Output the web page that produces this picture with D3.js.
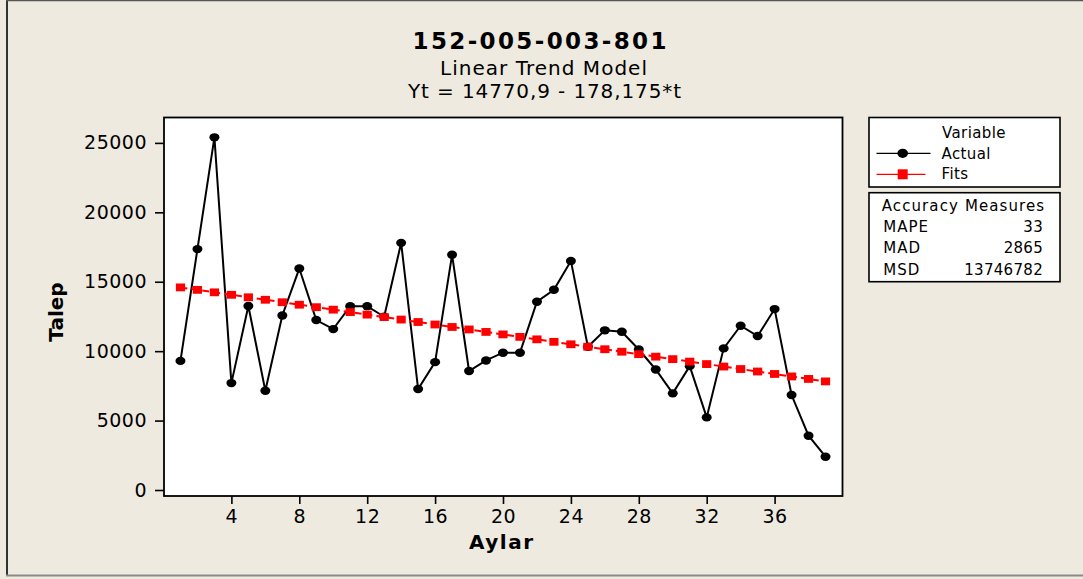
<!DOCTYPE html>
<html>
<head>
<meta charset="utf-8">
<script src="https://cdn.jsdelivr.net/npm/d3@7/dist/d3.min.js"></script>
<style>
  html, body { margin: 0; padding: 0; background: #EEEADF; }
  svg { display: block; }
  text { font-family: "DejaVu Sans", Verdana, sans-serif; fill: #000; }
</style>
</head>
<body>
<script>
// Months (t) on the x axis
const months = [1,2,3,4,5,6,7,8,9,10,11,12,13,14,15,16,17,18,19,20,
                21,22,23,24,25,26,27,28,29,30,31,32,33,34,35,36,37,38,39];

// Observed demand (Talep) per month
const actual = [9300, 17350, 25400, 7700, 13250, 7150, 12570, 15950, 12240, 11590,
                13240, 13240, 12480, 17800, 7270, 9210, 16940, 8570, 9330, 9890,
                9890, 13560, 14420, 16500, 10320, 11500, 11400, 10120, 8680, 6960,
                8920, 5230, 10200, 11830, 11090, 13030, 6840, 3910, 2400];

// Fitted trend values (Yt = 14770,9 - 178,175*t)
const fits = [14592.7, 14414.6, 14236.4, 14058.2, 13880.0, 13701.9, 13523.7, 13345.5, 13167.3, 12989.2,
              12811.0, 12632.8, 12454.6, 12276.5, 12098.3, 11920.1, 11741.9, 11563.8, 11385.6, 11207.4,
              11029.2, 10851.1, 10672.9, 10494.7, 10316.5, 10138.4, 9960.2, 9782.0, 9603.8, 9425.7,
              9247.5, 9069.3, 8891.1, 8713.0, 8534.8, 8356.6, 8178.4, 8000.3, 7822.1];

const xTicks = [4, 8, 12, 16, 20, 24, 28, 32, 36];
const yTicks = [0, 5000, 10000, 15000, 20000, 25000];

const accuracyLabels = ["MAPE", "MAD", "MSD"];
const accuracyValues = ["33", "2865", "13746782"];

const W = 1083, H = 579;
const svg = d3.select("body").append("svg").attr("width", W).attr("height", H);

svg.append("rect").attr("width", W).attr("height", H).attr("fill", "#EEEADF");

// outer graph frame
svg.append("line").attr("x1", 7).attr("x2", 7).attr("y1", 0).attr("y2", 576)
  .attr("stroke", "#333").attr("stroke-width", 2);
svg.append("line").attr("x1", 6).attr("x2", W).attr("y1", 0.5).attr("y2", 0.5)
  .attr("stroke", "#555").attr("stroke-width", 1.5);
svg.append("line").attr("x1", 6).attr("x2", W).attr("y1", 575.5).attr("y2", 575.5)
  .attr("stroke", "#8a8a8a").attr("stroke-width", 2);

const P = { left: 164, top: 117.5, right: 842.5, bottom: 496 };

const x = d3.scaleLinear().domain([0.03, 40]).range([P.left, P.right]);
const y = d3.scaleLinear().domain([-432, 26829]).range([P.bottom, P.top]);

// data region
svg.append("rect")
  .attr("x", P.left).attr("y", P.top)
  .attr("width", P.right - P.left).attr("height", P.bottom - P.top)
  .attr("fill", "#fff");

// titles
const cx = 541.5;
svg.append("text").attr("x", cx - 2).attr("y", 49).attr("text-anchor", "middle")
  .attr("font-size", 23).attr("font-weight", "bold")
  .attr("textLength", 254).attr("lengthAdjust", "spacing")
  .text("152-005-003-801");
svg.append("text").attr("x", cx + 2).attr("y", 74.5).attr("text-anchor", "middle")
  .attr("font-size", 20).attr("textLength", 207).attr("lengthAdjust", "spacing")
  .text("Linear Trend Model");
svg.append("text").attr("x", cx + 3).attr("y", 97.5).attr("text-anchor", "middle")
  .attr("font-size", 20).attr("textLength", 273).attr("lengthAdjust", "spacing")
  .text("Yt = 14770,9 - 178,175*t");

// axes
const yAxis = svg.append("g").attr("transform", `translate(${P.left},0)`)
  .call(d3.axisLeft(y).tickValues(yTicks).tickSize(9).tickPadding(8).tickFormat(d3.format("d")));
const xAxis = svg.append("g").attr("transform", `translate(0,${P.bottom})`)
  .call(d3.axisBottom(x).tickValues(xTicks).tickSize(8).tickPadding(5.5).tickFormat(d3.format("d")));

[yAxis, xAxis].forEach(g => {
  g.select(".domain").remove();
  g.selectAll(".tick line").attr("stroke", "#000").attr("stroke-width", 1.6);
  g.selectAll(".tick text")
    .style("font-family", '"DejaVu Sans", Verdana, sans-serif')
    .style("font-size", "19px").style("letter-spacing", "0.5px").attr("fill", "#000");
});

// axis titles
svg.append("text").attr("x", 501).attr("y", 549).attr("text-anchor", "middle")
  .attr("font-size", 20).attr("font-weight", "bold")
  .attr("textLength", 64).attr("lengthAdjust", "spacing")
  .text("Aylar");
svg.append("text").attr("transform", "translate(63,312) rotate(-90)")
  .attr("text-anchor", "middle")
  .attr("font-size", 20).attr("font-weight", "bold")
  .text("Talep");

// series
const actualPts = months.map((t, i) => ({ t, v: actual[i] }));
const fitPts = months.map((t, i) => ({ t, v: fits[i] }));
const line = d3.line().x(d => x(d.t)).y(d => y(d.v));

svg.append("path").datum(actualPts).attr("d", line)
  .attr("fill", "none").attr("stroke", "#000").attr("stroke-width", 2);
svg.append("g").selectAll("ellipse").data(actualPts).join("ellipse")
  .attr("cx", d => x(d.t)).attr("cy", d => y(d.v))
  .attr("rx", 5).attr("ry", 4.2).attr("fill", "#000");

svg.append("path").datum(fitPts).attr("d", line)
  .attr("fill", "none").attr("stroke", "#ff0000").attr("stroke-width", 2)
  .attr("stroke-dasharray", "7,4");
svg.append("g").selectAll("rect").data(fitPts).join("rect")
  .attr("x", d => x(d.t) - 4.6).attr("y", d => y(d.v) - 3.9)
  .attr("width", 9.2).attr("height", 7.8).attr("fill", "#ff0000");

// plot frame
svg.append("rect")
  .attr("x", P.left).attr("y", P.top)
  .attr("width", P.right - P.left).attr("height", P.bottom - P.top)
  .attr("fill", "none").attr("stroke", "#000").attr("stroke-width", 1.8);

// legend box
const L = { x: 869, w: 191 };
svg.append("rect").attr("x", L.x).attr("y", 117.5).attr("width", L.w).attr("height", 69.5)
  .attr("fill", "#fff").attr("stroke", "#000").attr("stroke-width", 1.6);
svg.append("text").attr("x", 974).attr("y", 137.5).attr("text-anchor", "middle")
  .attr("font-size", 15).style("letter-spacing", "0.4px").text("Variable");

svg.append("line").attr("x1", 876.5).attr("x2", 930.5).attr("y1", 153.3).attr("y2", 153.3)
  .attr("stroke", "#000").attr("stroke-width", 1.3);
svg.append("ellipse").attr("cx", 902.7).attr("cy", 153.3).attr("rx", 5.3).attr("ry", 4.6).attr("fill", "#000");
svg.append("text").attr("x", 941.5).attr("y", 159).attr("font-size", 15)
  .style("letter-spacing", "0.4px").text("Actual");

svg.append("line").attr("x1", 876.5).attr("x2", 925.5).attr("y1", 174.3).attr("y2", 174.3)
  .attr("stroke", "#ff0000").attr("stroke-width", 1.3);
svg.append("rect").attr("x", 897.7).attr("y", 169.3).attr("width", 10).attr("height", 10).attr("fill", "#ff0000");
svg.append("text").attr("x", 941.5).attr("y", 179.3).attr("font-size", 15)
  .style("letter-spacing", "0.4px").text("Fits");

// accuracy measures box
svg.append("rect").attr("x", L.x).attr("y", 192.7).attr("width", L.w).attr("height", 89)
  .attr("fill", "#fff").attr("stroke", "#000").attr("stroke-width", 1.6);
svg.append("text").attr("x", 881.7).attr("y", 211).attr("font-size", 15)
  .attr("textLength", 162.5).attr("lengthAdjust", "spacing")
  .text("Accuracy Measures");
const rowY = [231.7, 252.7, 274.5];
accuracyLabels.forEach((lab, i) => {
  svg.append("text").attr("x", 883.3).attr("y", rowY[i]).attr("font-size", 15)
    .style("letter-spacing", "1px").text(lab);
  svg.append("text").attr("x", 1043).attr("y", rowY[i]).attr("font-size", 15)
    .attr("text-anchor", "end").style("letter-spacing", "0.3px").text(accuracyValues[i]);
});
</script>
</body>
</html>
